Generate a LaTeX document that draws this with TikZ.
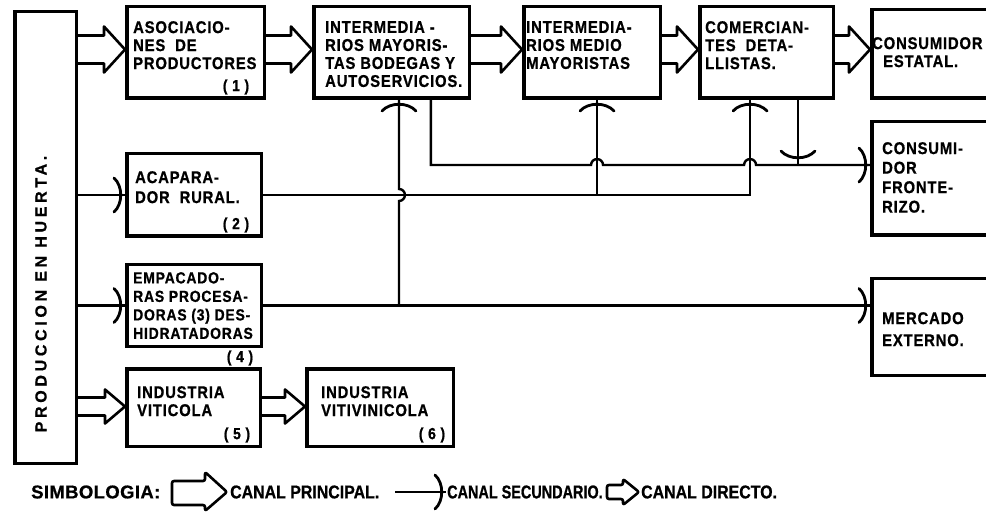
\documentclass[tikz,border=0pt]{standalone}
\usepackage{fontspec}
\setmainfont{Liberation Sans}[LetterSpace=5, FakeStretch=0.87, BoldFeatures={FakeBold=0.8}]
\newfontfamily\legfont{Liberation Sans}[FakeStretch=0.86, BoldFeatures={FakeBold=0.8}]
\newfontfamily\legnarrow{Liberation Sans}[FakeStretch=0.78, BoldFeatures={FakeBold=0.8}]
\newfontfamily\legwide{Liberation Sans}[LetterSpace=2, BoldFeatures={FakeBold=0.8}]
\newfontfamily\vertfont{Liberation Sans}[LetterSpace=23, BoldFeatures={FakeBold=0.8}]
\usetikzlibrary{calc}
\newcommand\shead[2]{\draw[headst, shift={(#1)}, rotate=#2] (-11,-17) .. controls (-2,-9) and (-2,9) .. (-11,17);}
\begin{document}
\begin{tikzpicture}[x=1pt,y=-1pt,
  box/.style={draw, line width=3.5pt, inner sep=0pt, anchor=north west},
  txt/.style={font=\bfseries\fontsize{17}{18}\selectfont, align=left, inner sep=0pt, anchor=north west},
  num/.style={font=\bfseries\fontsize{16}{16}\selectfont, inner sep=0pt},
  leg/.style={font=\bfseries\fontsize{18.5}{20}\selectfont, inner sep=0pt, anchor=west},
  conn/.style={line width=2.4pt},
  headst/.style={line width=2.8pt, line cap=round},
  bigarrow/.style={line width=2.6pt, line join=round, to path={let \p1=(\tikztostart), \p2=(\tikztotarget) in
    (\x1,\y1+17pt) -- (\x2-21pt,\y1+17pt) -- (\x2-21pt,\y1+26pt) -- (\x2,\y1+3pt) -- (\x2-21pt,\y1-20pt) -- (\x2-21pt,\y1-11pt) -- (\x1,\y1-11pt)}},
  smallarrow/.style={line width=2.6pt, line join=round, to path={let \p1=(\tikztostart), \p2=(\tikztotarget) in
    (\x1,\y1+10pt) -- (\x2-20pt,\y1+10pt) -- (\x2-20pt,\y1+18pt) -- (\x2,\y1+1pt) -- (\x2-20pt,\y1-16pt) -- (\x2-20pt,\y1-8pt) -- (\x1,\y1-8pt)}}
]
\useasboundingbox (0,0) rectangle (986,513);
\fill[white] (0,0) rectangle (986,513);

% boxes
\node[box, minimum width=61.5pt, minimum height=451.5pt] (prod) at (13,10) {};
\node[box, minimum width=137.5pt, minimum height=91.5pt] (asoc) at (125,5) {};
\node[box, minimum width=155.5pt, minimum height=91.5pt] (intmay) at (312,5) {};
\node[box, minimum width=136.5pt, minimum height=91.5pt] (intmed) at (522,5) {};
\node[box, minimum width=133.5pt, minimum height=91.5pt] (comer) at (698,5) {};
\node[box, minimum width=131.5pt, minimum height=88.5pt] (consest) at (870,8) {};
\node[box, minimum width=131.5pt, minimum height=113.5pt] (consfront) at (870,120) {};
\node[box, minimum width=131.5pt, minimum height=96.5pt] (merc) at (870,277) {};
\node[box, minimum width=134.5pt, minimum height=82.5pt] (acap) at (125,152) {};
\node[box, minimum width=134.5pt, minimum height=81.5pt] (empac) at (125,263) {};
\node[box, minimum width=133.5pt, minimum height=77.5pt] (vitic) at (125,367) {};
\node[box, minimum width=146.5pt, minimum height=77.5pt] (vitiv) at (305,367) {};

% texts
\node[rotate=90, font=\vertfont\bfseries\fontsize{16}{18}\selectfont, inner sep=0pt] (tprod) at (41,294) {PRODUCCION EN HUERTA.};
\node[txt] (tasoc) at (133,21) {ASOCIACIO-\\NES\ \ DE\\PRODUCTORES};
\node[num] (n1) at (236,87) {(\ 1\ )};
\node[txt] (tintmay) at (325,21) {INTERMEDIA -\\RIOS MAYORIS-\\TAS BODEGAS Y\\AUTOSERVICIOS.};
\node[txt] (tintmed) at (526,21) {INTERMEDIA-\\RIOS MEDIO\\MAYORISTAS};
\node[txt] (tcomer) at (705,21) {COMERCIAN-\\TES\ \ DETA-\\LLISTAS.};
\node[txt] (tconsest) at (872,37) {CONSUMIDOR\\\hspace*{11pt}ESTATAL.};
\node[txt, font=\bfseries\fontsize{17}{19.5}\selectfont] (tconsfront) at (882,142) {CONSUMI-\\DOR\\FRONTE-\\RIZO.};
\node[txt, font=\bfseries\fontsize{17}{22}\selectfont] (tmerc) at (882,312) {MERCADO\\EXTERNO.};
\node[txt, font=\bfseries\fontsize{17}{20}\selectfont] (tacap) at (135,171) {ACAPARA-\\DOR\ \ RURAL.};
\node[num] (n2) at (236,225) {(\ 2\ )};
\node[txt, font=\bfseries\fontsize{16}{18.5}\selectfont] (tempac) at (133,272) {EMPACADO-\\RAS PROCESA-\\DORAS (3) DES-\\HIDRATADORAS};
\node[num] (n4) at (240,358) {(\ 4\ )};
\node[txt] (tvitic) at (137,386) {INDUSTRIA\\VITICOLA};
\node[num] (n5) at (237,435) {(\ 5\ )};
\node[txt] (tvitiv) at (321,386) {INDUSTRIA\\VITIVINICOLA};
\node[num] (n6) at (432,435) {(\ 6\ )};

% main channels
\draw[bigarrow] (prod.east |- asoc.west) to (asoc.west);
\draw[bigarrow] (asoc.east) to (intmay.west);
\draw[bigarrow] (intmay.east) to (intmed.west);
\draw[bigarrow] (intmed.east) to (comer.west);
\draw[bigarrow] (comer.east) to (comer.east -| consest.west);
\draw[smallarrow] (prod.east |- vitic.west) to (vitic.west);
\draw[smallarrow] (vitic.east) to (vitiv.west);

% junction coordinates
\coordinate (cMay1) at ($(intmay.south west)!0.547!(intmay.south east)$);
\coordinate (cMay2) at ($(intmay.south west)!0.748!(intmay.south east)$);
\coordinate (cMed) at ($(intmed.south west)!0.536!(intmed.south east)$);
\coordinate (cCom1) at ($(comer.south west)!0.38!(comer.south east)$);
\coordinate (cCom2) at ($(comer.south west)!0.73!(comer.south east)$);
\coordinate (yF) at ($(consfront.north west)!0.385!(consfront.south west)$);
\coordinate (mIn) at (empac.east -| merc.west);

% secondary channels
\draw[conn] (prod.east |- acap.west) -- (acap.west);
\shead{acap.west}{0}
\draw[conn] (prod.east |- empac.west) -- (empac.west);
\shead{empac.west}{0}
\draw[conn] (acap.east) -- (acap.east -| cCom1) -- (cCom1);
\shead{cCom1}{90}
\draw[conn] (acap.east -| cMed) -- (cMed);
\shead{cMed}{90}
\draw[conn] (empac.east) -- (mIn);
\shead{mIn}{0}
\draw[conn] (empac.east -| cMay1) -- ($(acap.east -| cMay1)+(0,6)$) arc[start angle=-90,end angle=90,radius=6pt] -- (cMay1);
\shead{cMay1}{90}
\draw[conn] (cMay2) -- (cMay2 |- yF) -- ($(cMed |- yF)+(-6,0)$) arc[start angle=180,end angle=0,radius=6pt]
  -- ($(cCom1 |- yF)+(-6,0)$) arc[start angle=180,end angle=0,radius=6pt] -- (yF);
\shead{yF}{0}
\draw[conn] (cCom2) -- (cCom2 |- yF);
\shead{$(cCom2 |- yF)+(0,-3)$}{-90}

% legend
\node[leg] (lsim) at (31,492) {\legwide SIMBOLOGIA:};
\draw[line width=2.6pt, line join=round, rounded corners=2pt] (172,481) -- (205,481) -- (205,472) -- (227,492) -- (205,511) -- (205,505) -- (172,505) -- cycle;
\node[leg] (lp) at (230,492) {\legfont CANAL PRINCIPAL.};
\coordinate (ls0) at (395,492);
\coordinate (ls1) at (446,492);
\draw[conn] (ls0) -- (ls1);
\shead{ls1}{0}
\node[leg] (ls) at (447,492) {\legnarrow CANAL SECUNDARIO.};
\draw[line width=2.6pt, line join=round, rounded corners=2pt] (607,485) -- (623,485) -- (623,479) -- (639,492) -- (623,505) -- (623,499) -- (607,499) -- cycle;
\node[leg] (ld) at (641,492) {\legfont CANAL DIRECTO.};
\end{tikzpicture}
\end{document}
